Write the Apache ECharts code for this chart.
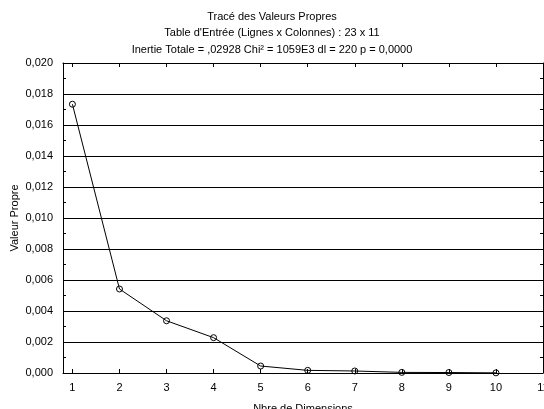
<!DOCTYPE html>
<html>
<head>
<meta charset="utf-8">
<script src="https://cdn.jsdelivr.net/npm/echarts@6/dist/echarts.min.js"></script>
<style>html,body{margin:0;padding:0;background:#fff}#c{width:544px;height:409px}</style>
</head>
<body>
<div id="c"></div>
<script>
const titleLines = [
  "Tracé des Valeurs Propres",
  "Table d'Entrée (Lignes x Colonnes) : 23 x 11",
  "Inertie Totale = ,02928 Chi² = 1059E3 dl = 220 p = 0,0000"
];
const xName = "Nbre de Dimensions";
const yName = "Valeur Propre";
const dimensions = [1, 2, 3, 4, 5, 6, 7, 8, 9, 10];
const eigenvalues = [0.01734, 0.00542, 0.00337, 0.00228, 0.00045, 0.00017, 0.00013, 0.00004, 0.00003, 0.00001];
const xTickValues = [1, 2, 3, 4, 5, 6, 7, 8, 9, 10, 11];

const font = "Liberation Sans, Arial, sans-serif";
const chart = echarts.init(document.getElementById('c'), null, {renderer: 'canvas'});
const fmt = v => v.toFixed(3).replace('.', ',');

chart.setOption({
  animation: false,
  backgroundColor: '#fff',
  title: titleLines.map((t, i) => ({
    text: t, left: 'center', top: 6 + i * 16.5,
    textStyle: {fontFamily: font, fontSize: 11, fontWeight: 'normal', color: '#000'}
  })),
  graphic: [{
    type: 'text', x: 15, y: 218, rotation: Math.PI / 2, silent: true,
    style: {text: yName, align: 'center', verticalAlign: 'middle', fontFamily: font, fontSize: 11, fill: '#000'}
  }],
  grid: {left: 63, right: 1, top: 63, bottom: 36, containLabel: false, outerBoundsMode: 'none'},
  xAxis: [{
    type: 'value', min: 0.8, max: 11, position: 'bottom',
    name: xName, nameLocation: 'middle', nameGap: 30,
    nameTextStyle: {fontFamily: font, fontSize: 11, color: '#000'},
    axisLine: {show: true, onZero: false, lineStyle: {color: '#000', width: 1}},
    axisTick: {show: true, inside: true, length: 4, customValues: xTickValues, lineStyle: {color: '#000'}},
    axisLabel: {show: true, customValues: xTickValues, margin: 9, fontFamily: font, fontSize: 11, color: '#000', showMaxLabel: true, showMinLabel: true},
    splitLine: {show: false}
  }, {
    type: 'value', min: 0.8, max: 11, position: 'top',
    axisLine: {show: true, onZero: false, lineStyle: {color: '#000', width: 1}},
    axisTick: {show: true, inside: true, length: 4, customValues: xTickValues, lineStyle: {color: '#000'}},
    axisLabel: {show: false},
    splitLine: {show: false}
  }],
  yAxis: [{
    type: 'value', min: 0, max: 0.02, interval: 0.002, position: 'left',
    axisLine: {show: true, onZero: false, lineStyle: {color: '#000', width: 1}},
    axisTick: {show: true, inside: true, length: 4, lineStyle: {color: '#000'}},
    minorTick: {show: true, splitNumber: 2, length: 3, lineStyle: {color: '#000'}},
    axisLabel: {formatter: fmt, margin: 10, fontFamily: font, fontSize: 11, color: '#000'},
    splitLine: {show: true, lineStyle: {color: '#000', width: 1}}
  }, {
    type: 'value', min: 0, max: 0.02, interval: 0.002, position: 'right',
    axisLine: {show: true, onZero: false, lineStyle: {color: '#000', width: 1}},
    axisTick: {show: true, inside: true, length: 4, lineStyle: {color: '#000'}},
    minorTick: {show: true, splitNumber: 2, length: 3, lineStyle: {color: '#000'}},
    axisLabel: {show: false},
    splitLine: {show: false}
  }],
  series: [{
    type: 'line',
    data: dimensions.map((d, i) => [d, eigenvalues[i]]),
    xAxisIndex: 0, yAxisIndex: 0,
    symbol: 'circle', symbolSize: 6,
    lineStyle: {color: '#000', width: 1},
    itemStyle: {color: 'rgba(255,255,255,0)', borderColor: '#000', borderWidth: 1},
    emphasis: {disabled: true},
    clip: false
  }]
});
</script>
</body>
</html>
